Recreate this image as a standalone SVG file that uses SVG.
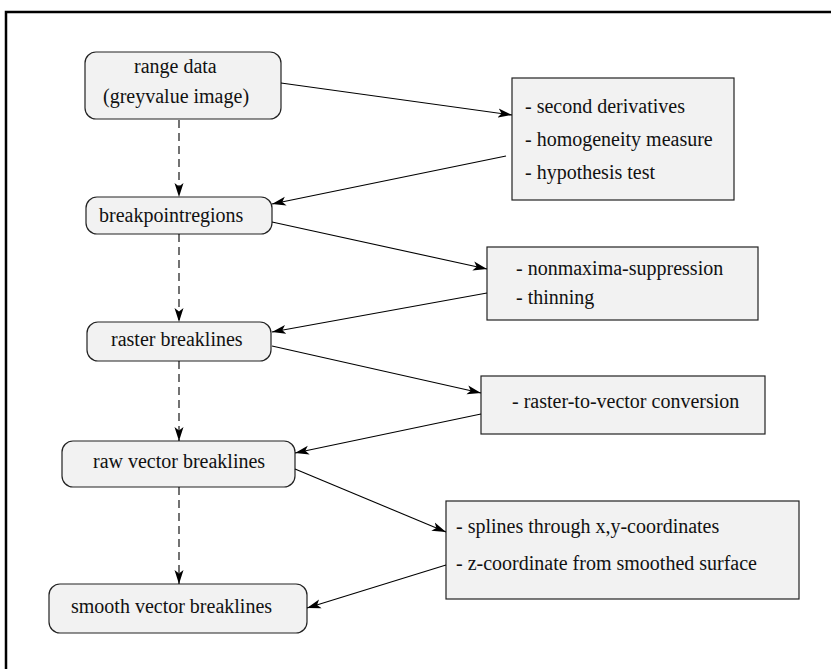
<svg xmlns="http://www.w3.org/2000/svg" width="831" height="669" viewBox="0 0 831 669">
<style>
.bg{fill:#ffffff}
.frame{fill:none;stroke:#000;stroke-width:2.5}
.rnode{fill:#f2f2f2;stroke:#222;stroke-width:1.2}
.bnode{fill:#f2f2f2;stroke:#222;stroke-width:1.2}
.t{font-family:"Liberation Serif","Times New Roman",Times,Tinos,"Noto Serif","DejaVu Serif",FreeSerif,serif;font-size:20px;fill:#111}
.solid{fill:none;stroke:#000;stroke-width:1.1;marker-end:url(#ah)}
.dash{fill:none;stroke:#000;stroke-width:1.1;stroke-dasharray:8 5;marker-end:url(#ah)}
</style>
<defs>
<marker id="ah" markerUnits="userSpaceOnUse" markerWidth="16" markerHeight="10" refX="14" refY="5" orient="auto" viewBox="0 0 16 10">
<path d="M0,0.5 L14,5 L0,9.5 L3.5,5 z" fill="#000"/>
</marker>
</defs>
<rect class="bg" x="0" y="0" width="831" height="669"/>
<path class="frame" d="M6,669 V12 H831"/>

<g class="t">
<g id="n-range">
<rect class="rnode" x="85" y="52" width="196" height="67" rx="11"/>
<text x="134" y="73">range data</text>
<text x="103" y="103">(greyvalue image)</text>
</g>
<g id="n-breakpoint">
<rect class="rnode" x="86" y="197" width="186" height="37" rx="11"/>
<text x="99" y="222">breakpointregions</text>
</g>
<g id="n-raster">
<rect class="rnode" x="87" y="322" width="184" height="39" rx="11"/>
<text x="111" y="346">raster breaklines</text>
</g>
<g id="n-raw">
<rect class="rnode" x="62" y="441" width="233" height="46" rx="11"/>
<text x="93" y="468">raw vector breaklines</text>
</g>
<g id="n-smooth">
<rect class="rnode" x="49" y="584" width="258" height="49" rx="11"/>
<text x="71" y="613">smooth vector breaklines</text>
</g>

<g id="n-ops1">
<rect class="bnode" x="512" y="78" width="222" height="122"/>
<text x="525" y="113">- second derivatives</text>
<text x="525" y="146">- homogeneity measure</text>
<text x="525" y="179">- hypothesis test</text>
</g>
<g id="n-ops2">
<rect class="bnode" x="487" y="247" width="271" height="73"/>
<text x="516" y="275">- nonmaxima-suppression</text>
<text x="516" y="304">- thinning</text>
</g>
<g id="n-ops3">
<rect class="bnode" x="481" y="376" width="284" height="58"/>
<text x="512" y="408">- raster-to-vector conversion</text>
</g>
<g id="n-ops4">
<rect class="bnode" x="446" y="501" width="353" height="98"/>
<text x="456" y="533">- splines through x,y-coordinates</text>
<text x="456" y="570">- z-coordinate from smoothed surface</text>
</g>
</g>

<g id="connectors">
<path class="solid" d="M281,83 L512,115"/>
<path class="solid" d="M506,156 L272,204"/>
<path class="solid" d="M272,222 L487,269"/>
<path class="solid" d="M487,293 L272,332"/>
<path class="solid" d="M272,346 L481,393"/>
<path class="solid" d="M481,414 L295,453"/>
<path class="solid" d="M295,469 L446,532"/>
<path class="solid" d="M446,565 L307,608"/>
<path class="dash" d="M179,120 L179,197"/>
<path class="dash" d="M179,234 L179,322"/>
<path class="dash" d="M179,361 L179,441"/>
<path class="dash" d="M179,487 L179,584"/>
</g>
</svg>
